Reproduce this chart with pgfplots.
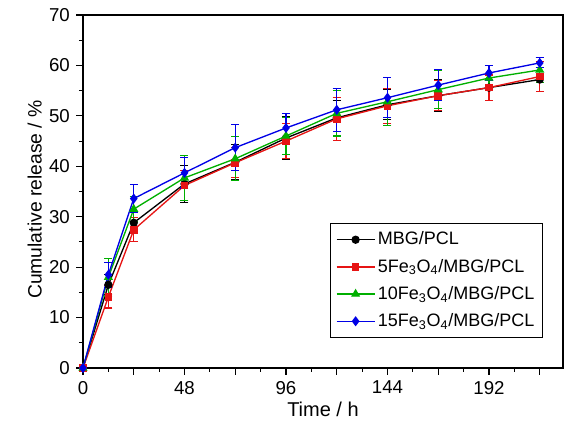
\documentclass[border=0pt]{standalone}
\usepackage{pgfplots}
\pgfplotsset{compat=1.18}
\usepackage{fontspec}
\setmainfont{Liberation Sans}
\definecolor{cred}{RGB}{230,20,20}
\definecolor{cgreen}{RGB}{0,175,0}
\definecolor{cblue}{RGB}{0,0,230}
\begin{document}
\fontsize{14}{16.8}\selectfont
\begin{tikzpicture}
\begin{axis}[
  scale only axis,
  width=360pt, height=264.75pt,
  xmin=0, xmax=227, ymin=0, ymax=70,
  xtick={0,24,...,216},
  xticklabels={0,,48,,96,,144,,192,},
  minor x tick num=1,
  ytick={0,10,...,70},
  minor y tick num=1,
  tick align=outside,
  xtick pos=bottom, ytick pos=left,
  major tick length=5pt, minor tick length=3pt,
  tick style={black, line width=0.8pt},
  axis line style={line width=0.8pt},
  tick label style={font=\fontsize{14}{16.8}\selectfont},
  /pgf/number format/assume math mode=true,
  xlabel={Time / h}, ylabel={Cumulative release / \%},
  xlabel style={font=\fontsize{15}{18}\selectfont, yshift=4pt},
  ylabel style={font=\fontsize{14.5}{17}\selectfont, yshift=-4pt, xshift=-6pt},
  legend style={at={(0.958,0.41)}, anchor=north east, draw=black, line width=0.8pt,
    font=\fontsize{13.5}{16}\selectfont, row sep=4.5pt, inner sep=4pt},
  legend cell align=left,
  legend image code/.code={\draw[mark repeat=2, mark phase=2] plot coordinates {(0cm,0cm) (0.5cm,0cm) (1.0cm,0cm)};},
  every axis plot/.append style={line width=1pt, mark size=2.6pt,
    error bars/error mark options={rotate=90, mark size=3pt, line width=0.8pt},
    error bars/error bar style={line width=0.8pt}},
]
\addplot[black, mark=*, error bars/.cd, y dir=both, y explicit] table[x=t, y=v, y error=e] {
t v e
0 0 0
12 16.5 2.0
24 28.8 2.0
48 36.5 3.7
72 40.8 3.5
96 45.6 4.3
120 49.6 3.5
144 52.2 3.0
168 54.0 3.2
192 55.6 2.6
216 57.2 2.4
};
\addlegendentry{MBG/PCL}
\addplot[cred, mark=square*, mark size=2.4pt, error bars/.cd, y dir=both, y explicit] table[x=t, y=v, y error=e] {
t v e
0 0 0
12 14.1 2.2
24 27.4 2.4
48 36.2 3.0
72 40.7 3.0
96 45.0 3.5
120 49.4 4.2
144 52.0 3.5
168 54.0 3.0
192 55.6 2.5
216 57.8 3.0
};
\addlegendentry{5Fe\textsubscript{3}O\textsubscript{4}/MBG/PCL}
\addplot[cgreen, mark=triangle*, mark size=3pt, error bars/.cd, y dir=both, y explicit] table[x=t, y=v, y error=e] {
t v e
0 0 0
12 18.0 3.8
24 31.5 2.5
48 37.7 4.4
72 41.5 4.4
96 46.0 3.7
120 50.5 4.5
144 52.8 4.8
168 55.2 3.8
192 57.5 2.5
216 59.1 2.5
};
\addlegendentry{10Fe\textsubscript{3}O\textsubscript{4}/MBG/PCL}
\addplot[cblue, mark=diamond*, mark size=3pt, error bars/.cd, y dir=both, y explicit] table[x=t, y=v, y error=e] {
t v e
0 0 0
12 18.5 2.5
24 33.6 2.7
48 38.7 3.0
72 43.7 4.5
96 47.6 2.8
120 51.2 4.3
144 53.6 4.0
168 56.1 3.0
192 58.5 1.5
216 60.5 1.0
};
\addlegendentry{15Fe\textsubscript{3}O\textsubscript{4}/MBG/PCL}
\coordinate (bl) at (rel axis cs:0,0);
\coordinate (tr) at (rel axis cs:1,1);
\end{axis}
\pgfresetboundingbox
\path ([shift={(-62.25pt,-46.5pt)}]bl) rectangle ([shift={(2.25pt,11.25pt)}]tr);
\end{tikzpicture}
\end{document}
